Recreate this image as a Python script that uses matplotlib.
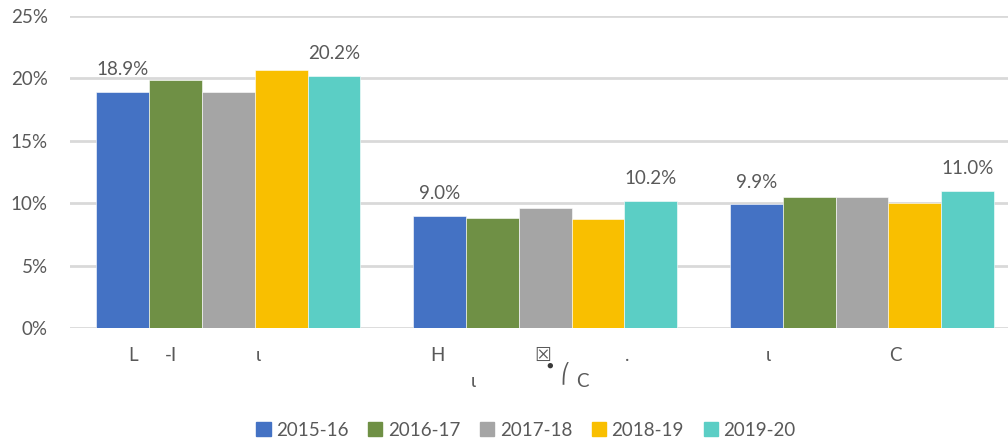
import numpy as np
import matplotlib.pyplot as plt
from matplotlib.patches import Patch

plt.rcParams['font.family'] = ['Lato', 'DejaVu Sans']

seasons = ['2015-16', '2016-17', '2017-18', '2018-19', '2019-20']
colors = ['#4472C4', '#6F9045', '#A5A5A5', '#F9BF00', '#5BCEC5']

# share by category (%), one list per season
v_2015 = [18.9, 9.0, 9.9]
v_2016 = [19.9, 8.8, 10.5]
v_2017 = [18.9, 9.6, 10.5]
v_2018 = [20.7, 8.7, 10.0]
v_2019 = [20.2, 10.2, 11.0]
values = [v_2015, v_2016, v_2017, v_2018, v_2019]

# category labels as they come out in the source (broken glyphs)
cat_parts = [
    [('L', -95, 0), ('-I', -57, 0), ('ι', 30, 0)],
    [('H', -108, 0), ('☒', -3, 0), ('●', 4, 0.3), ('ι', -72, 1),
     ('⎛', 20, 0.75), ('C', 37, 1), ('.', 82, 0)],
    [('ι', -94, 0), ('C', 33, 0)],
]

text_col = '#595959'
grid_col = '#D9D9D9'


def main():
    fig = plt.figure(figsize=(10.08, 4.43), dpi=100)
    ax = fig.add_axes([70 / 1008, 1 - 328 / 443, 1 - 70 / 1008, (328 - 16) / 443])

    x = np.arange(len(cat_parts))
    w = 1 / 6
    for i, (s, c) in enumerate(zip(seasons, colors)):
        bars = ax.bar(x + (i - 2) * w, values[i], w, color=c, label=s,
                      edgecolor='white', linewidth=0.4, zorder=3)
        if i in (0, 4):
            for b, v in zip(bars, values[i]):
                ax.annotate(f'{v:.1f}%', (b.get_x() + b.get_width() / 2, v),
                            xytext=(0, 10), textcoords='offset points',
                            ha='center', va='bottom', fontsize=13.5,
                            color=text_col)

    ax.set_ylim(0, 25)
    ax.set_yticks(range(0, 26, 5))
    ax.set_yticklabels([f'{t}%' for t in range(0, 26, 5)])
    ax.set_xlim(-0.5, 2.5 - 12.5 / 317)
    ax.set_xticks([])
    ax.yaxis.grid(True, color=grid_col, linewidth=2, zorder=0)
    ax.tick_params(axis='y', length=0, pad=16, labelsize=13.5,
                   labelcolor=text_col)
    for sp in ax.spines.values():
        sp.set_visible(False)

    # broken category labels
    for k, parts in enumerate(cat_parts):
        for txt, dx, line in parts:
            small = txt == '●'
            ax.annotate(txt, (k, 0), xycoords=('data', 'axes fraction'),
                        xytext=(dx * 0.72, -33 * 0.72 - line * 26 * 0.72),
                        textcoords='offset points', ha='center',
                        va='baseline', fontsize=8 if small else 13.5,
                        color='#3A3A3A' if small else text_col)

    handles = [Patch(color=c, label=s) for s, c in zip(seasons, colors)]
    fig.legend(handles=handles, loc='center', ncol=5, frameon=False,
               bbox_to_anchor=(526 / 1008, 1 - 430 / 443), fontsize=13.5,
               labelcolor=text_col, handlelength=0.75, handleheight=0.75,
               handletextpad=0.3, columnspacing=1.05)

    fig.savefig('out.png', dpi=100)


if __name__ == '__main__':
    main()
